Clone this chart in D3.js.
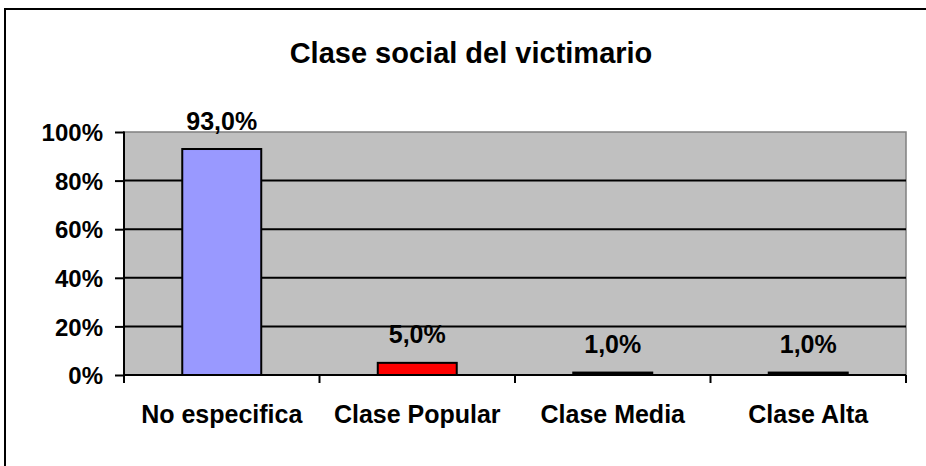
<!DOCTYPE html>
<html>
<head>
<meta charset="utf-8">
<script src="https://cdn.jsdelivr.net/npm/d3@7"></script>
<style>
  body { margin: 0; background: #fff; }
  svg { display: block; font-family: "Liberation Sans", Arial, sans-serif; font-weight: bold; }
</style>
</head>
<body>
<svg id="chart"></svg>
<script>
(function(){

var categories = ["No especifica", "Clase Popular", "Clase Media", "Clase Alta"];
var values = [93.0, 5.0, 1.0, 1.0];
var barColors = ["#9999FF", "#FF0000", "#000000", "#000000"];
var yTicks = [0, 20, 40, 60, 80, 100];

var W = 926, H = 466;
var margin = {top: 132, right: 20, bottom: 91, left: 124},
  width = 906 - margin.left,
  height = 375 - margin.top;

var canvas = d3.select("#chart")
  .attr("width", W)
  .attr("height", H);

// outer frame, runs off the right and bottom
canvas.append("rect")
  .attr("x", 5).attr("y", 9)
  .attr("width", W).attr("height", H)
  .style("fill", "#fff")
  .style("stroke", "#000")
  .style("stroke-width", 2);

canvas.append("text")
  .attr("x", 471).attr("y", 63)
  .attr("text-anchor", "middle")
  .style("font-size", "29px")
  .text("Clase social del victimario");

var svg = canvas.append("g")
  .attr("transform", "translate(" + margin.left + "," + margin.top + ")");

var x = d3.scaleBand().domain(categories).range([0, width]).paddingInner(0).paddingOuter(0);
var y = d3.scaleLinear().domain([0, 100]).range([height, 0]);

// plot area
svg.append("rect")
  .attr("width", width).attr("height", height)
  .style("fill", "#C0C0C0")
  .style("stroke", "#808080")
  .style("stroke-width", 1.5);

// gridlines
svg.selectAll("line.grid")
  .data(yTicks.filter(function(d){ return d > 0 && d < 100; }))
  .enter().append("line")
  .attr("class", "grid")
  .attr("x1", 0).attr("x2", width)
  .attr("y1", function(d){ return y(d); })
  .attr("y2", function(d){ return y(d); })
  .style("stroke", "#000")
  .style("stroke-width", 2);

// y axis
var yAxis = d3.axisLeft(y)
  .tickValues(yTicks)
  .tickSize(9)
  .tickPadding(12)
  .tickFormat(function(d){ return d + "%"; });
var yas = svg.append("g").call(yAxis);
yas.select(".domain").attr("d", "M0,-0.5V" + (height + 8)).style("stroke-width", 2);
yas.selectAll(".tick line").style("stroke-width", 2);
yas.selectAll(".tick text")
  .attr("dy", "0.36em")
  .style("font-size", "24px")
  .style("font-family", "'Liberation Sans', Arial, sans-serif")
  .style("font-weight", "bold")
  .style("fill", "#000");

// x axis: ticks at category boundaries
var bounds = categories.map(function(c){ return x(c); }).concat([width]);
svg.append("line")
  .attr("x1", 0).attr("x2", width)
  .attr("y1", height).attr("y2", height)
  .style("stroke", "#000").style("stroke-width", 2);
svg.selectAll("line.xtick")
  .data(bounds)
  .enter().append("line")
  .attr("class", "xtick")
  .attr("x1", function(d){ return d; }).attr("x2", function(d){ return d; })
  .attr("y1", height).attr("y2", height + 8)
  .style("stroke", "#000").style("stroke-width", 2);

svg.selectAll("text.xlabel")
  .data(categories)
  .enter().append("text")
  .attr("class", "xlabel")
  .attr("x", function(d){ return x(d) + x.bandwidth() / 2; })
  .attr("y", 423 - margin.top)
  .attr("text-anchor", "middle")
  .style("font-size", "25px")
  .text(function(d){ return d; });

// bars
var barW = x.bandwidth() * 0.404;
svg.selectAll("rect.bar")
  .data(values)
  .enter().append("rect")
  .attr("class", "bar")
  .attr("x", function(d, i){ return x(categories[i]) + (x.bandwidth() - barW) / 2; })
  .attr("y", function(d){ return y(d); })
  .attr("width", barW)
  .attr("height", function(d){ return height - y(d); })
  .style("fill", function(d, i){ return barColors[i]; })
  .style("stroke", "#000")
  .style("stroke-width", 2);

svg.selectAll("text.val")
  .data(values)
  .enter().append("text")
  .attr("class", "val")
  .attr("x", function(d, i){ return x(categories[i]) + x.bandwidth() / 2; })
  .attr("y", function(d){ return y(d) - 19.5; })
  .attr("text-anchor", "middle")
  .style("font-size", "25px")
  .text(function(d){ return d.toFixed(1).replace(".", ",") + "%"; });

})();
</script>
</body>
</html>
